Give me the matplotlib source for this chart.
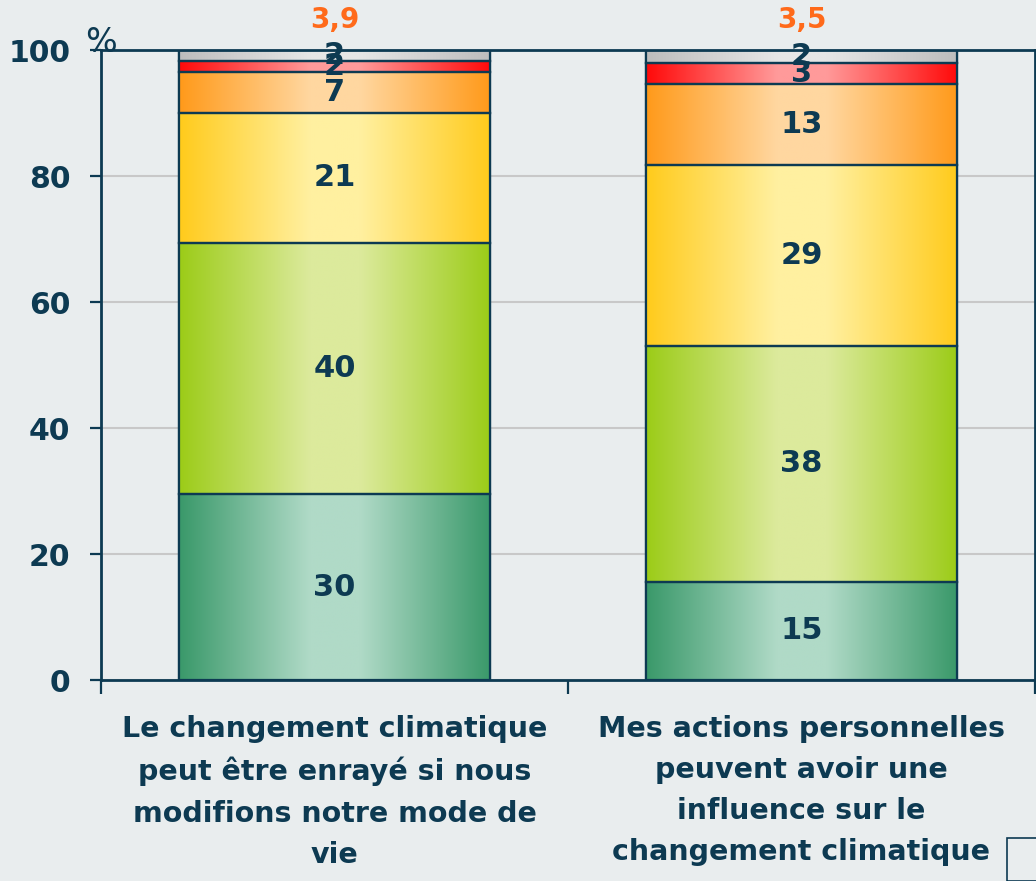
import matplotlib
matplotlib.use("Agg")
import matplotlib.pyplot as plt
from matplotlib.colors import LinearSegmentedColormap
from matplotlib.patches import Rectangle
import numpy as np

# categories (x axis)
categories = [
    "Le changement climatique\npeut être enrayé si nous\nmodifions notre mode de\nvie",
    "Mes actions personnelles\npeuvent avoir une\ninfluence sur le\nchangement climatique",
]
# segment heights, bottom -> top
bar1_values = [29.5, 39.9, 20.6, 6.5, 1.8, 1.7]
bar2_values = [15.6, 37.4, 28.7, 12.9, 3.3, 2.1]
# printed labels
bar1_labels = ["30", "40", "21", "7", "2", "2"]
bar2_labels = ["15", "38", "29", "13", "3", "2"]
top_labels = ["3,9", "3,5"]
yticks = [0, 20, 40, 60, 80, 100]

# (edge colour, centre colour) per segment, bottom -> top
SEG_COLORS = [
    ("#3a996a", "#b0dac7"),
    ("#9ccc18", "#dcea9c"),
    ("#ffcb1c", "#fff0a0"),
    ("#ff9a1a", "#ffd7a0"),
    ("#ff0a0a", "#ff9a9a"),
    ("#bdbdbd", "#e6e6e6"),
]
BG = "#e9edee"
NAVY = "#0d3a52"
ORANGE = "#ff6a1a"

fig = plt.figure(figsize=(10.36, 8.81), dpi=100, facecolor=BG)
ax = fig.add_axes([101 / 1036, 1 - 680 / 881, 934 / 1036, 630 / 881])
ax.set_facecolor(BG)

x = np.arange(len(categories))
all_values = [bar1_values, bar2_values]
all_labels = [bar1_labels, bar2_labels]
stacks = np.array(all_values).T  # segments x bars

bottom = np.zeros(len(categories))
grad = np.linspace(0, 1, 256).reshape(1, -1)
for i, (edge, centre) in enumerate(SEG_COLORS):
    bars = ax.bar(x, stacks[i], bottom=bottom, width=0.666, color=edge,
                  edgecolor=NAVY, linewidth=1.6, zorder=2)
    cmap = LinearSegmentedColormap.from_list(
        f"g{i}", [(0, edge), (0.42, centre), (0.58, centre), (1, edge)])
    for j, b in enumerate(bars):
        x0, y0, w, h = b.get_x(), b.get_y(), b.get_width(), b.get_height()
        im = ax.imshow(grad, cmap=cmap, aspect="auto",
                       extent=(x0, x0 + w, y0, y0 + h), zorder=2.5,
                       interpolation="bilinear")
        im.set_clip_path(b)
        # redraw outline on top of gradient
        ax.add_patch(Rectangle((x0, y0), w, h, fill=False, edgecolor=NAVY,
                               linewidth=1.6, zorder=3))
        ax.text(x0 + w / 2, y0 + h / 2, all_labels[j][i], ha="center",
                va="center", fontsize=22, fontweight="bold", color=NAVY,
                zorder=4)
    bottom += stacks[i]

for j, lab in enumerate(top_labels):
    ax.text(x[j], 104.8, lab, ha="center", va="center", fontsize=20,
            fontweight="bold", color=ORANGE, clip_on=False)

ax.text(-0.5, 101.2, "%", ha="center", va="center", fontsize=24,
        color=NAVY, clip_on=False)

ax.set_xlim(-0.5, 1.5)
ax.set_ylim(0, 100)
ax.set_yticks(yticks)
ax.set_yticklabels([str(t) for t in yticks], fontsize=21.5, fontweight="bold",
                   color=NAVY)
ax.tick_params(axis="y", length=8, width=1.6, color=NAVY, pad=14)
ax.grid(axis="y", color="#c8c8c8", linewidth=1.5, zorder=0)
ax.set_axisbelow(True)

ax.set_xticks(x)
ax.set_xticklabels(categories, fontsize=20.5, fontweight="bold", color=NAVY,
                   linespacing=1.6)
ax.tick_params(axis="x", which="major", length=0, pad=25)
ax.set_xticks([-0.5, 0.5, 1.5], minor=True)
ax.tick_params(axis="x", which="minor", length=10, width=1.6, color=NAVY)

for s in ax.spines.values():
    s.set_color(NAVY)
    s.set_linewidth(2)
    s.set_zorder(5)

# partial legend frame in bottom-right corner
fig.patches.append(Rectangle((1007 / 1036, 0), 0.05, 43 / 881,
                             transform=fig.transFigure, fill=False,
                             edgecolor=NAVY, linewidth=1.2))

fig.savefig("out.png", dpi=100, facecolor=BG)
